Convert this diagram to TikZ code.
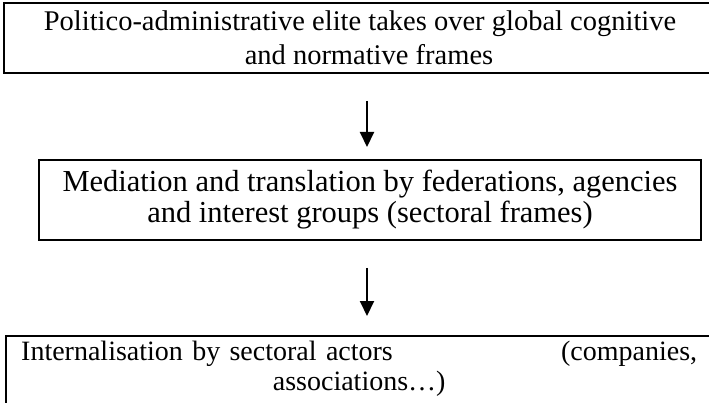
\documentclass[tikz,border=0pt]{standalone}
\usepackage{fontspec}
\setmainfont{Liberation Serif}
\usetikzlibrary{arrows.meta}
\begin{document}
\begin{tikzpicture}[x=1pt,y=-1pt,
  frame/.style={draw, line width=2pt, inner sep=0pt, anchor=north west, align=center,
    font=\fontsize{28.5}{34}\selectfont},
  flow/.style={line width=2pt, -{Triangle[length=15pt,width=14pt]}}]
  \useasboundingbox (0,0) rectangle (709,403);
  \clip (0,0) rectangle (709,403);
  \node[frame, minimum width=712pt, minimum height=70pt] (elite) at (3,2)
    {Politico-administrative elite takes over global cognitive\\\hspace*{18pt}and normative frames};
  \node[frame, minimum width=662pt, minimum height=80pt,
    font=\fontsize{30.5}{31}\selectfont] (mediation) at (38,159)
    {Mediation and translation by federations, agencies\\and interest groups (sectoral frames)};
  \node[frame, minimum width=760pt, minimum height=100pt] (actors) at (5,335) {};
  \node[anchor=north west, inner sep=0pt, text width=676pt, align=center,
    font=\fontsize{28}{30}\selectfont] (actorstext) at (21,341)
    {\makebox[\linewidth][l]{Internalisation by sectoral actors\hfill(companies,}\\associations…)};
  \coordinate (axis) at (367,0);
  \draw[flow, shorten <=27pt, shorten >=12pt] (elite.south -| axis) -- (mediation.north -| axis);
  \draw[flow, shorten <=27pt, shorten >=19pt] (mediation.south -| axis) -- (actors.north -| axis);
\end{tikzpicture}
\end{document}
